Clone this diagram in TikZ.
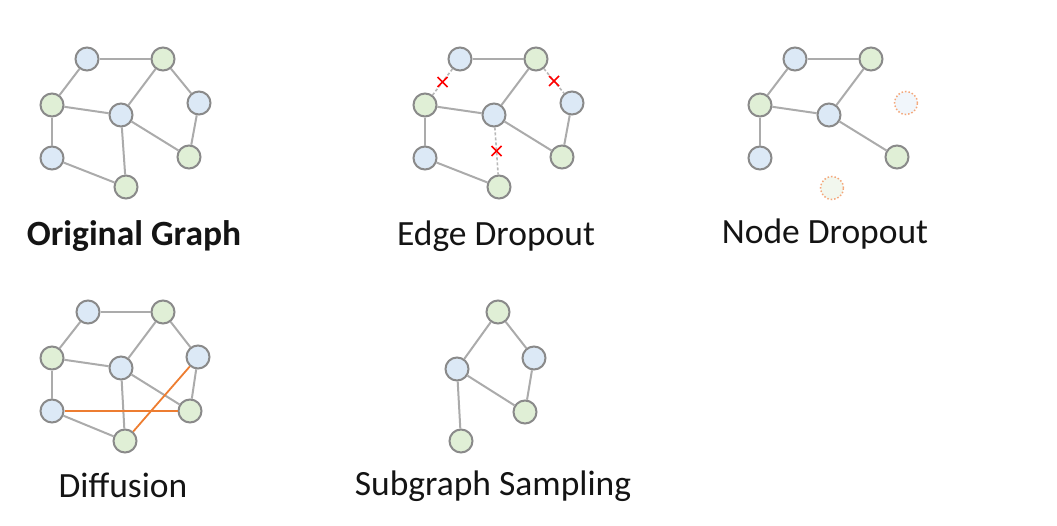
\documentclass[tikz,border=0pt]{standalone}
\usepackage{fontspec}
\setmainfont{Carlito}
\definecolor{nblue}{HTML}{DCE9F6}
\definecolor{ngreen}{HTML}{E0EFD6}
\definecolor{nborder}{HTML}{8A8A8A}
\definecolor{eline}{HTML}{ABABAB}
\definecolor{dorange}{HTML}{F4A77A}
\definecolor{dblue}{HTML}{F1F6FB}
\definecolor{dgreen}{HTML}{F2F7EE}
\definecolor{xorange}{HTML}{ED7D31}
\definecolor{labeltext}{HTML}{141414}
\tikzset{
  gnode/.style={circle, draw=nborder, line width=2pt, minimum size=23pt, inner sep=0pt},
  bnode/.style={gnode, fill=nblue},
  grnode/.style={gnode, fill=ngreen},
  dropnode/.style={circle, draw=dorange, line width=1.5pt, dotted, minimum size=23pt, inner sep=0pt},
  gedge/.style={draw=eline, line width=2pt},
  dedge/.style={draw=eline!85, line width=1.6pt, dash pattern=on 3pt off 2pt},
  newedge/.style={draw=xorange, line width=1.8pt},
  xmark/.style={red, line width=1.6pt},
  lbl/.style={anchor=base, font=\fontsize{35.5}{40}\selectfont, text=labeltext, inner sep=0pt}
}
\begin{document}
\begin{tikzpicture}[x=1pt,y=-1pt]
\useasboundingbox (0,0) rectangle (1057,525);
% ---------- Original graph ----------
\node[bnode] (oA) at (87,59) {};
\node[grnode] (oB) at (163,59) {};
\node[grnode] (oC) at (52,105) {};
\node[bnode] (oD) at (121,115) {};
\node[bnode] (oE) at (199,103) {};
\node[bnode] (oF) at (52,158) {};
\node[grnode] (oG) at (189,157) {};
\node[grnode] (oH) at (126,187) {};
\draw[gedge] (oA) -- (oB);
\draw[gedge] (oA) -- (oC);
\draw[gedge] (oB) -- (oD);
\draw[gedge] (oB) -- (oE);
\draw[gedge] (oC) -- (oD);
\draw[gedge] (oC) -- (oF);
\draw[gedge] (oD) -- (oG);
\draw[gedge] (oD) -- (oH);
\draw[gedge] (oE) -- (oG);
\draw[gedge] (oF) -- (oH);
\node[lbl, font=\fontsize{35.5}{40}\selectfont\bfseries] (oL) at (134,245) {Original Graph};
% ---------- Edge dropout ----------
\begin{scope}[shift={(373,0)}]
\node[bnode] (eA) at (87,59) {};
\node[grnode] (eB) at (163,59) {};
\node[grnode] (eC) at (52,105) {};
\node[bnode] (eD) at (121,115) {};
\node[bnode] (eE) at (199,103) {};
\node[bnode] (eF) at (52,158) {};
\node[grnode] (eG) at (189,157) {};
\node[grnode] (eH) at (126,187) {};
\end{scope}
\draw[gedge] (eA) -- (eB);
\draw[dedge] (eA) -- (eC) coordinate[pos=0.5] (eX1);
\draw[gedge] (eB) -- (eD);
\draw[dedge] (eB) -- (eE) coordinate[pos=0.5] (eX2);
\draw[gedge] (eC) -- (eD);
\draw[gedge] (eC) -- (eF);
\draw[dedge] (eD) -- (eH) coordinate[pos=0.5] (eX3);
\draw[gedge] (eD) -- (eG);
\draw[gedge] (eE) -- (eG);
\draw[gedge] (eF) -- (eH);
\foreach \c in {eX1,eX2,eX3} {
  \draw[xmark] ([shift={(-5,-5)}]\c) -- ([shift={(5,5)}]\c);
  \draw[xmark] ([shift={(-5,5)}]\c) -- ([shift={(5,-5)}]\c);
}
\node[lbl] (eL) at (496,245) {Edge Dropout};
% ---------- Node dropout ----------
\begin{scope}[shift={(708,0)}]
\node[bnode] (nA) at (87,59) {};
\node[grnode] (nB) at (163,59) {};
\node[grnode] (nC) at (52,105) {};
\node[bnode] (nD) at (121,115) {};
\node[dropnode, fill=dblue] (nE) at (198,103) {};
\node[bnode] (nF) at (52,158) {};
\node[grnode] (nG) at (189,157) {};
\node[dropnode, fill=dgreen] (nH) at (124,188) {};
\end{scope}
\draw[gedge] (nA) -- (nB);
\draw[gedge] (nA) -- (nC);
\draw[gedge] (nB) -- (nD);
\draw[gedge] (nC) -- (nD);
\draw[gedge] (nC) -- (nF);
\draw[gedge] (nD) -- (nG);
\node[lbl] (nL) at (825,243) {Node Dropout};
% ---------- Diffusion ----------
\begin{scope}[shift={(0,253)}]
\node[bnode] (dA) at (88,59) {};
\node[grnode] (dB) at (163,59) {};
\node[grnode] (dC) at (52,105) {};
\node[bnode] (dD) at (121,115) {};
\node[bnode] (dE) at (198,104) {};
\node[bnode] (dF) at (52,158) {};
\node[grnode] (dG) at (190,158) {};
\node[grnode] (dH) at (125,188) {};
\end{scope}
\draw[gedge] (dA) -- (dB);
\draw[gedge] (dA) -- (dC);
\draw[gedge] (dB) -- (dD);
\draw[gedge] (dB) -- (dE);
\draw[gedge] (dC) -- (dD);
\draw[gedge] (dC) -- (dF);
\draw[gedge] (dD) -- (dG);
\draw[gedge] (dD) -- (dH);
\draw[gedge] (dE) -- (dG);
\draw[gedge] (dF) -- (dH);
\draw[newedge] (dF) -- (dG);
\draw[newedge] (dE) -- (dH);
\node[lbl] (dL) at (123,497) {Diffusion};
% ---------- Subgraph sampling ----------
\begin{scope}[shift={(335,253)}]
\node[grnode] (sB) at (163,59) {};
\node[bnode] (sD) at (122,116) {};
\node[bnode] (sE) at (199,105) {};
\node[grnode] (sG) at (190,159) {};
\node[grnode] (sH) at (126,188) {};
\end{scope}
\draw[gedge] (sB) -- (sD);
\draw[gedge] (sB) -- (sE);
\draw[gedge] (sD) -- (sG);
\draw[gedge] (sE) -- (sG);
\draw[gedge] (sD) -- (sH);
\node[lbl] (sL) at (493,495) {Subgraph Sampling};
\end{tikzpicture}
\end{document}
